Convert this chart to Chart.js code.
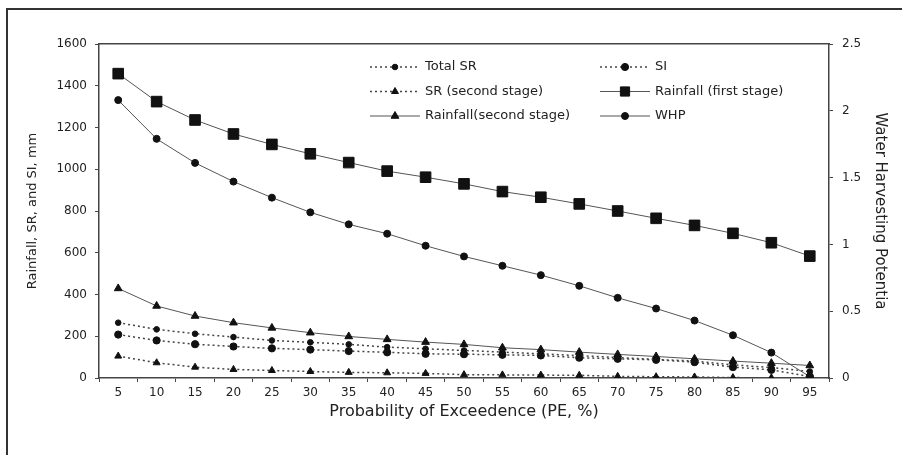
<!DOCTYPE html>
<html>
<head>
<meta charset="utf-8">
<script src="https://cdn.jsdelivr.net/npm/chart.js@4"></script>
<style>
  html, body { margin: 0; padding: 0; background: #fff; overflow: hidden; }
  #wrap { position: relative; width: 902px; height: 455px; overflow: hidden; }
  #frameTop { position: absolute; left: 6px; top: 8px; width: 896px; height: 2px; background: #333; }
  #frameLeft { position: absolute; left: 6px; top: 8px; width: 2px; height: 447px; background: #333; }
  canvas { position: absolute; left: 0; top: 0; }
</style>
</head>
<body>
<div id="wrap">
  <div id="frameTop"></div>
  <div id="frameLeft"></div>
  <canvas id="chart" width="902" height="455"></canvas>
</div>
<script>
// probability of exceedence (PE, %)
const peLabels = ['5','10','15','20','25','30','35','40','45','50','55','60','65','70','75','80','85','90','95'];

// mm, left axis
const totalSR = [265, 233, 212, 196, 180, 171, 161, 148, 140, 132, 124, 116, 107, 98, 89, 81, 63, 50, 31];
const siValues = [208, 180, 162, 151, 142, 136, 129, 123, 116, 114, 111, 108, 97, 92, 87, 76, 52, 39, 7];
const srSecond = [105, 73, 52, 41, 36, 31, 27, 25, 22, 16, 15, 14, 13, 8, 6, 5, 2, 1, 0];
const rainFirst = [1458, 1324, 1236, 1169, 1119, 1074, 1032, 991, 962, 930, 893, 866, 834, 800, 765, 731, 693, 648, 584];
const rainSecond = [429, 345, 297, 265, 240, 217, 199, 185, 172, 161, 145, 136, 124, 113, 103, 92, 81, 71, 60];

// water harvesting potential, right axis
const whpValues = [2.08, 1.79, 1.61, 1.47, 1.35, 1.24, 1.15, 1.08, 0.99, 0.91, 0.84, 0.77, 0.69, 0.60, 0.52, 0.43, 0.32, 0.19, 0.01];

const ink = '#222';
const lineGray = '#555';

Chart.defaults.font.family = 'DejaVu Sans';
Chart.defaults.color = ink;

function makeSet(label, data, opts) {
    return Object.assign({
        label: label,
        data: data,
        yAxisID: 'y',
        borderColor: lineGray,
        borderWidth: 1,
        backgroundColor: '#111',
        pointBackgroundColor: '#111',
        pointBorderColor: '#111',
        pointBorderWidth: 1,
        tension: 0,
        fill: false
    }, opts);
}

const dotted = [2, 3];

// order = legend order, row by row in two columns
const datasets = [
    makeSet('Total SR', totalSR, { borderDash: dotted, borderWidth: 1.5, borderColor: '#444', pointStyle: 'circle', pointRadius: 2.8 }),
    makeSet('SI', siValues, { borderDash: dotted, borderWidth: 1.5, borderColor: '#444', pointStyle: 'circle', pointRadius: 3.6 }),
    makeSet('SR (second stage)', srSecond, { borderDash: dotted, borderWidth: 1.5, borderColor: '#444', pointStyle: 'triangle', pointRadius: 4 }),
    makeSet('Rainfall (first stage)', rainFirst, { pointStyle: 'rect', pointRadius: 7.5 }),
    makeSet('Rainfall(second stage)', rainSecond, { pointStyle: 'triangle', pointRadius: 4.5 }),
    makeSet('WHP', whpValues, { yAxisID: 'y2', pointStyle: 'circle', pointRadius: 3.5 })
];

// legend drawn inside the plot, two columns
const insideLegend = {
    id: 'insideLegend',
    afterDraw(chart) {
        const ctx = chart.ctx;
        const area = chart.chartArea;
        const colX = [area.left + 271, area.left + 501];
        const sampleLen = 50;
        ctx.save();
        ctx.font = '13px "DejaVu Sans"';
        ctx.textBaseline = 'middle';
        chart.data.datasets.forEach((ds, i) => {
            const x0 = colX[i % 2];
            const y = area.top + 23 + Math.floor(i / 2) * 24.5;
            ctx.strokeStyle = ds.borderColor;
            ctx.lineWidth = ds.borderWidth;
            ctx.setLineDash(ds.borderDash || []);
            ctx.beginPath();
            ctx.moveTo(x0, y);
            ctx.lineTo(x0 + sampleLen, y);
            ctx.stroke();
            ctx.setLineDash([]);
            ctx.fillStyle = ds.pointBackgroundColor;
            ctx.strokeStyle = ds.pointBorderColor;
            ctx.lineWidth = 1;
            Chart.helpers.drawPoint(ctx, {
                pointStyle: ds.pointStyle,
                radius: ds.pointStyle === 'rect' ? 6.5 : ds.pointRadius,
                rotation: 0,
                borderWidth: 1
            }, x0 + sampleLen / 2, y);
            ctx.fillStyle = ink;
            ctx.fillText(ds.label, x0 + sampleLen + 5, y);
        });
        ctx.restore();
    }
};

new Chart(document.getElementById('chart'), {
    type: 'line',
    data: { labels: peLabels, datasets: datasets },
    options: {
        responsive: false,
        animation: false,
        layout: { padding: { top: 44, left: 0, right: 0, bottom: 0 } },
        plugins: {
            legend: { display: false },
            tooltip: { enabled: false }
        },
        scales: {
            x: {
                type: 'category',
                offset: true,
                afterFit: s => { s.height = 77; },
                grid: { offset: true, drawOnChartArea: false, drawTicks: true, tickLength: 4, color: '#444' },
                border: { display: true, color: '#444', width: 1.5 },
                ticks: { font: { size: 12 }, padding: 4, maxRotation: 0, autoSkip: false },
                title: {
                    display: true,
                    text: 'Probability of Exceedence (PE, %)',
                    font: { size: 16 },
                    padding: { top: 0, bottom: 34 }
                }
            },
            xTop: {
                type: 'category',
                position: 'top',
                labels: peLabels,
                offset: true,
                afterFit: s => { s.height = 0; },
                ticks: { display: false },
                grid: { display: false },
                border: { display: true, color: '#444', width: 1.5 }
            },
            y: {
                position: 'left',
                min: 0,
                max: 1600,
                afterFit: s => { s.width = 99; },
                ticks: { stepSize: 200, font: { size: 12 }, padding: 8, callback: v => String(v) },
                grid: { drawOnChartArea: false, tickLength: 4, color: '#444' },
                border: { display: true, color: '#444', width: 1.5 },
                title: {
                    display: true,
                    text: 'Rainfall, SR, and SI, mm',
                    font: { size: 13 },
                    padding: { top: 25, bottom: 0 }
                }
            },
            y2: {
                position: 'right',
                min: 0,
                max: 2.5,
                afterFit: s => { s.width = 73; },
                ticks: { stepSize: 0.5, font: { size: 12 }, padding: 9, callback: v => String(v) },
                grid: { drawOnChartArea: false, tickLength: 4, color: '#444' },
                border: { display: true, color: '#444', width: 1.5 },
                title: {
                    display: true,
                    text: 'Water Harvesting Potentia',
                    font: { size: 15 },
                    padding: { top: 13, bottom: 0 }
                }
            }
        }
    },
    plugins: [insideLegend]
});
</script>
</body>
</html>
